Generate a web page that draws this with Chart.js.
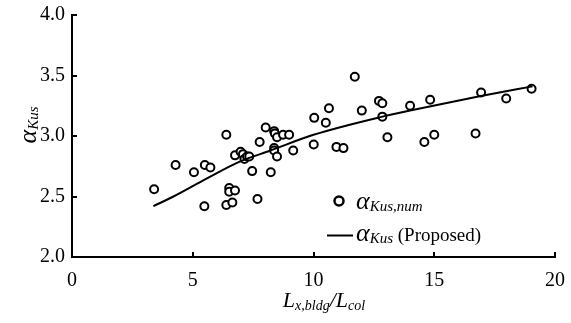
<!DOCTYPE html>
<html>
<head>
<meta charset="utf-8">
<script src="https://cdn.jsdelivr.net/npm/chart.js@4"></script>
<style>
  html, body { margin: 0; padding: 0; background: #fff; }
  #wrap { width: 571px; height: 323px; }
</style>
</head>
<body>
<div id="wrap"><canvas id="myChart" width="571" height="323"></canvas></div>
<script>
// numerical results (alpha_Kus,num)
const numX = [3.40, 4.29, 5.05, 5.50, 5.73, 5.48, 6.39, 6.51, 6.51, 6.75, 6.39, 6.64, 6.75, 6.98,
  7.08, 7.14, 7.25, 7.34, 7.46, 7.68, 7.77, 8.02, 8.37, 8.40, 8.49, 8.37, 8.37, 8.49, 8.23,
  8.74, 8.99, 9.16, 10.01, 10.03, 10.64, 10.51, 10.95, 11.24, 11.71, 12.00, 12.71, 12.85,
  12.85, 13.06, 14.00, 14.59, 14.83, 15.00, 16.71, 16.94, 17.98, 19.03];
const numY = [2.56, 2.76, 2.70, 2.76, 2.74, 2.42, 3.01, 2.57, 2.54, 2.55, 2.43, 2.45, 2.84, 2.87,
  2.85, 2.81, 2.83, 2.83, 2.71, 2.48, 2.95, 3.07, 3.04, 3.02, 2.99, 2.90, 2.88, 2.83, 2.70,
  3.01, 3.01, 2.88, 2.93, 3.15, 3.23, 3.11, 2.91, 2.90, 3.49, 3.21, 3.29, 3.27,
  3.16, 2.99, 3.25, 2.95, 3.30, 3.01, 3.02, 3.36, 3.31, 3.39];

// proposed curve (alpha_Kus)
const fitX = [3.37, 4.20, 5.59, 6.97, 8.22, 10.0, 12.85, 14.0, 16.93, 19.07];
const fitY = [2.42, 2.50, 2.65, 2.79, 2.88, 3.01, 3.16, 3.21, 3.33, 3.41];

const xTicks = [0, 5, 10, 15, 20];
const yTicks = [2.0, 2.5, 3.0, 3.5, 4.0];

const SERIF = '"Liberation Serif", "DejaVu Serif", serif';

// draw a run of text pieces with different fonts / baseline shifts
function drawRuns(ctx, x, y, runs, align) {
  let total = 0;
  runs.forEach(r => { ctx.font = r.font; total += ctx.measureText(r.text).width; });
  let cx = align === 'center' ? x - total / 2 : x;
  runs.forEach(r => {
    ctx.font = r.font;
    ctx.fillText(r.text, cx, y + (r.dy || 0));
    cx += ctx.measureText(r.text).width;
  });
}

const extras = {
  id: 'extras',
  afterDraw(chart) {
    const ctx = chart.ctx;
    const xs = chart.scales.x, ys = chart.scales.y;
    const a = chart.chartArea;
    ctx.save();
    ctx.strokeStyle = '#000';
    ctx.fillStyle = '#000';
    ctx.lineWidth = 2;
    // inward tick marks
    xTicks.forEach(v => {
      const px = Math.round(xs.getPixelForValue(v));
      ctx.beginPath(); ctx.moveTo(px, a.bottom); ctx.lineTo(px, a.bottom - 5); ctx.stroke();
    });
    yTicks.forEach(v => {
      const py = Math.round(ys.getPixelForValue(v));
      ctx.beginPath(); ctx.moveTo(a.left, py); ctx.lineTo(a.left + 5, py); ctx.stroke();
    });

    ctx.textBaseline = 'alphabetic';
    ctx.textAlign = 'left';
    // x title
    drawRuns(ctx, 324, 307, [
      { text: 'L', font: 'italic 22px ' + SERIF },
      { text: 'x,bldg', font: 'italic 14px ' + SERIF, dy: 3 },
      { text: '/L', font: 'italic 22px ' + SERIF },
      { text: 'col', font: 'italic 14px ' + SERIF, dy: 3 }
    ], 'center');

    // y title (rotated)
    ctx.save();
    ctx.translate(36, 125);
    ctx.rotate(-Math.PI / 2);
    drawRuns(ctx, 0, 0, [
      { text: 'α', font: 'italic 26px ' + SERIF },
      { text: 'Kus', font: 'italic 15px ' + SERIF, dy: 2 }
    ], 'center');
    ctx.restore();

    // legend
    ctx.beginPath();
    ctx.arc(339, 201, 4.5, 0, Math.PI * 2);
    ctx.fillStyle = '#fff'; ctx.fill();
    ctx.lineWidth = 2.5; ctx.stroke();
    ctx.fillStyle = '#000';
    drawRuns(ctx, 356, 209, [
      { text: 'α', font: 'italic 26px ' + SERIF },
      { text: 'Kus,num', font: 'italic 15px ' + SERIF, dy: 2 }
    ]);
    ctx.lineWidth = 2;
    ctx.beginPath(); ctx.moveTo(327, 235.5); ctx.lineTo(353, 235.5); ctx.stroke();
    drawRuns(ctx, 356, 241, [
      { text: 'α', font: 'italic 26px ' + SERIF },
      { text: 'Kus', font: 'italic 15px ' + SERIF, dy: 2 },
      { text: ' (Proposed)', font: '19px ' + SERIF }
    ]);
    ctx.restore();
  }
};

const ctx = document.getElementById('myChart').getContext('2d');
new Chart(ctx, {
  type: 'scatter',
  data: {
    datasets: [
      {
        label: 'num',
        data: numX.map((x, i) => ({ x: x, y: numY[i] })),
        pointStyle: 'circle',
        pointRadius: 4,
        pointBorderWidth: 2,
        pointBorderColor: '#000',
        pointBackgroundColor: '#fff',
        order: 2
      },
      {
        label: 'proposed',
        data: fitX.map((x, i) => ({ x: x, y: fitY[i] })),
        showLine: true,
        borderColor: '#000',
        borderWidth: 2,
        pointRadius: 0,
        tension: 0.4,
        cubicInterpolationMode: 'monotone',
        fill: false,
        order: 1
      }
    ]
  },
  options: {
    responsive: false,
    animation: false,
    layout: { padding: { top: 15, right: 16, left: 0, bottom: 0 } },
    plugins: { legend: { display: false }, tooltip: { enabled: false } },
    scales: {
      x: {
        type: 'linear', min: 0, max: 20,
        grid: { display: false, drawTicks: false, tickLength: 0 },
        border: { display: true, color: '#000', width: 2 },
        ticks: { stepSize: 5, color: '#000', padding: 12, font: { family: SERIF, size: 20 }, maxRotation: 0 },
        afterFit: s => { s.height = 66; s.paddingLeft = 0; s.paddingRight = 0; }
      },
      y: {
        type: 'linear', min: 2, max: 4,
        grid: { display: false, drawTicks: false, tickLength: 0 },
        border: { display: true, color: '#000', width: 2 },
        ticks: { stepSize: 0.5, color: '#000', padding: 7, font: { family: SERIF, size: 20 },
          callback: v => v.toFixed(1) },
        afterFit: s => { s.width = 72; s.paddingTop = 0; s.paddingBottom = 0; }
      }
    }
  },
  plugins: [extras]
});
</script>
</body>
</html>
